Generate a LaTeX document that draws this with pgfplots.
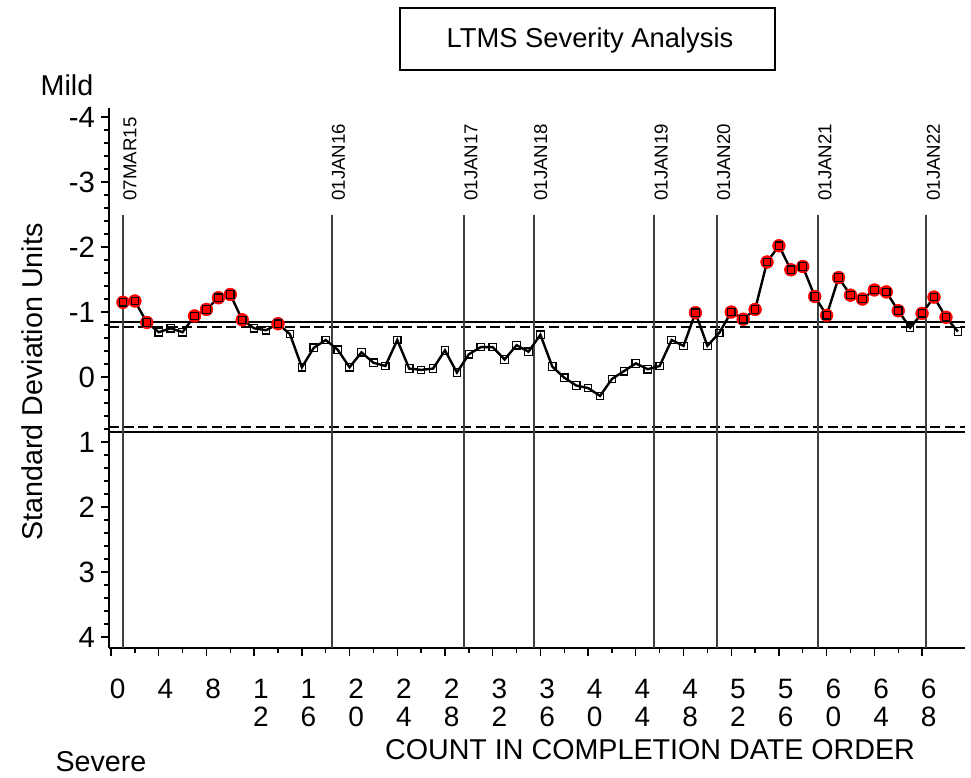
\documentclass[border=0pt]{standalone}
\usepackage{fontspec}
\setmainfont{Liberation Sans}
\usepackage{pgfplots}
\pgfplotsset{compat=1.18}
\usepackage{pgfplotstable}

\pgfplotstableread{
n v
1 -1.15
2 -1.17
3 -0.84
4 -0.69
5 -0.75
6 -0.69
7 -0.94
8 -1.04
9 -1.22
10 -1.27
11 -0.88
12 -0.75
13 -0.72
14 -0.82
15 -0.66
16 -0.15
17 -0.45
18 -0.57
19 -0.42
20 -0.15
21 -0.38
22 -0.22
23 -0.17
24 -0.57
25 -0.13
26 -0.11
27 -0.13
28 -0.41
29 -0.07
30 -0.35
31 -0.46
32 -0.46
33 -0.27
34 -0.49
35 -0.39
36 -0.65
37 -0.16
38 0.01
39 0.13
40 0.17
41 0.29
42 0.03
43 -0.09
44 -0.21
45 -0.12
46 -0.17
47 -0.57
48 -0.48
49 -0.99
50 -0.48
51 -0.68
52 -1.00
53 -0.89
54 -1.04
55 -1.77
56 -2.02
57 -1.65
58 -1.70
59 -1.24
60 -0.95
61 -1.53
62 -1.26
63 -1.20
64 -1.34
65 -1.31
66 -1.02
67 -0.76
68 -0.98
69 -1.23
70 -0.92
71 -0.70
}\sev

\pgfplotstableread{
n v
1 -1.15
2 -1.17
3 -0.84
7 -0.94
8 -1.04
9 -1.22
10 -1.27
11 -0.88
14 -0.82
49 -0.99
52 -1.00
53 -0.89
54 -1.04
55 -1.77
56 -2.02
57 -1.65
58 -1.70
59 -1.24
60 -0.95
61 -1.53
62 -1.26
63 -1.20
64 -1.34
65 -1.31
66 -1.02
68 -0.98
69 -1.23
70 -0.92
}\alarm

\begin{document}
\begin{tikzpicture}
\begin{axis}[
  scale only axis, width=642pt, height=405pt,
  at={(81.75pt,97.5pt)}, anchor=south west,
  xmin=-0.17, xmax=71.6, ymin=-4.14, ymax=4.17, y dir=reverse,
  axis x line*=bottom, axis y line*=left,
  axis line style={-, line width=1.8pt, black},
  xtick={0,4,...,68},
  xticklabels={0,4,8,{1\\2},{1\\6},{2\\0},{2\\4},{2\\8},{3\\2},{3\\6},{4\\0},{4\\4},{4\\8},{5\\2},{5\\6},{6\\0},{6\\4},{6\\8}},
  minor x tick num=1,
  ytick={-4,-3,...,4},
  yticklabels={-4,-3,-2,-1,0,1,2,3,4},
  minor y tick num=4,
  tick align=outside, major tick length=6pt, minor tick length=3.5pt,
  tick style={line width=1pt, black},
  ticklabel style={font=\fontsize{21}{21}\selectfont},
  xticklabel style={align=center, xshift=5pt, yshift=-14pt},
  yticklabel style={font=\fontsize{22}{22}\selectfont, xshift=-1pt},
  clip=false,
]
% control limits
\addplot[black, line width=1.5pt] coordinates {(-0.17,-0.85) (71.6,-0.85)};
\addplot[black, line width=1.5pt] coordinates {(-0.17,0.85) (71.6,0.85)};
\addplot[black, line width=1.5pt, dash pattern=on 7.5pt off 3.5pt] coordinates {(-0.17,-0.77) (71.6,-0.77)};
\addplot[black, line width=1.5pt, dash pattern=on 7.5pt off 3.5pt] coordinates {(-0.17,0.77) (71.6,0.77)};
% date reference lines
\pgfplotsinvokeforeach{1,18.5,29.6,35.45,45.55,50.8,59.27,68.37}{
  \addplot[black!75, line width=1.5pt] coordinates {(#1,-2.5) (#1,4.17)};
}
\tikzset{dl/.style={rotate=90, anchor=north west, inner sep=0pt, xshift=3pt, font=\fontsize{14}{14}\selectfont}}
\node[dl] at (axis cs:1,-2.65) {07MAR15};
\node[dl] at (axis cs:18.5,-2.65) {01JAN16};
\node[dl] at (axis cs:29.6,-2.65) {01JAN17};
\node[dl] at (axis cs:35.45,-2.65) {01JAN18};
\node[dl] at (axis cs:45.55,-2.65) {01JAN19};
\node[dl] at (axis cs:50.8,-2.65) {01JAN20};
\node[dl] at (axis cs:59.27,-2.65) {01JAN21};
\node[dl] at (axis cs:68.37,-2.65) {01JAN22};
% data
\addplot[only marks, mark=*, mark size=4.8pt, red, mark options={draw=red, fill=red}] table[x=n, y=v]{\alarm};
\addplot[black, line width=1.8pt, mark=square, mark size=2.8pt, mark options={line width=0.9pt}] table[x=n, y=v]{\sev};
\end{axis}
\begin{scope}[x=0.75pt, y=-0.75pt, yshift=583.5pt]
\draw[line width=1.6pt] (400,8) rectangle (775,70);
\node[font=\fontsize{20.5}{20.5}\selectfont] at (590,40) {LTMS Severity Analysis};
\node[font=\fontsize{21.5}{21.5}\selectfont] at (67,85) {Mild};
\node[font=\fontsize{21.5}{21.5}\selectfont, inner sep=1pt] at (101,762) {Severe};
\node[font=\fontsize{21.5}{21.5}\selectfont, rotate=90] at (32,382) {Standard Deviation Units};
\node[font=\fontsize{21.5}{21.5}\selectfont] at (650,750) {COUNT IN COMPLETION DATE ORDER};
\pgfresetboundingbox
\path[use as bounding box] (0,0) rectangle (971,778);
\end{scope}
\end{tikzpicture}
\end{document}
